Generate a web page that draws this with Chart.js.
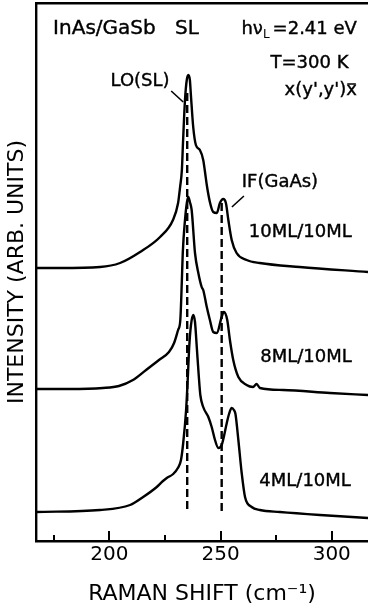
<!DOCTYPE html>
<html>
<head>
<meta charset="utf-8">
<script src="https://cdn.jsdelivr.net/npm/chart.js@4.4.1/dist/chart.umd.min.js"></script>
<style>
  html, body { margin: 0; padding: 0; background: #fff; }
  canvas { display: block; }
</style>
</head>
<body>
<canvas id="myChart" width="368" height="610"></canvas>
<script>
// Raman shift (cm-1) and intensity (arb. units, traces already offset)
const shift10 = [167.0,177.8,195.8,204.8,213.8,222.8,228.6,230.9,231.8,232.6,233.1,234.0,234.8,235.5,236.2,236.6,237.7,238.9,240.7,242.2,243.0,243.8,245.3,246.7,248.3,249.7,251.2,252.4,253.5,255.0,257.2,261.7,267.6,285.6,316.3];
const int10 = [273,273,274,278,289,304,321,338,354,371,398,441,461,466,461,448,414,396,391,381,369,356,338,329,328,338,342,338,321,301,288,281,278,274,269];

const shift8 = [167.0,181.8,197.1,204.3,210.6,216.5,222.3,226.8,229.1,230.9,231.9,232.6,233.0,234.0,234.9,235.5,236.2,237.0,238.5,240.0,241.5,242.2,243.8,245.2,246.7,248.3,250.5,251.5,253.0,254.2,255.7,258.0,261.7,264.6,266.2,267.7,278.1,299.2,316.3];
const int8 = [152,152,153,155,161,171,181,189,198,211,221,261,288,321,339,344,339,331,288,268,254,251,234,221,209,208,224,229,221,201,181,164,156,154,157,153,151,148,146];

const shift4 = [167.0,195.8,209.3,215.2,221.3,224.1,225.8,228.7,230.8,232.2,233.2,234.5,235.2,235.9,236.7,237.7,238.5,239.3,240.2,240.9,242.2,244.5,246.0,247.5,249.0,250.5,252.8,253.8,255.0,256.0,256.7,258.0,259.5,261.0,264.0,267.7,276.7,294.7,316.3];
const int4 = [29,31,36,44,54,60,63,67,73,81,98,131,160,194,216,226,219,194,165,146,134,124,114,101,93,96,118,127,133,131,127,101,68,44,34,31,29,26,23];

// dashed markers: LO(SL) and IF(GaAs) positions, with their vertical extent
const loShift = [235.0, 235.0];
const loSpan = [448, 28];
const ifShift = [250.5, 250.5];
const ifSpan = [338, 28];

// leader lines from the labels to the peaks
const loLeadX = [227.8, 233.2];
const loLeadY = [450, 439];
const ifLeadX = [255.1, 260.5];
const ifLeadY = [334, 345];

const tickValues = [175, 200, 225, 250, 275, 300];

const pts = (xs, ys) => xs.map((v, i) => ({x: v, y: ys[i]}));
const FONT = '"DejaVu Sans"';

Chart.defaults.font.family = FONT;
Chart.defaults.color = '#000';

const paperMarks = {
  id: 'paperMarks',
  afterDraw(chart) {
    const {ctx, scales: {x, y}} = chart;
    ctx.save();
    ctx.strokeStyle = '#000';
    ctx.fillStyle = '#000';
    ctx.lineWidth = 2;
    // ticks point into the plot
    tickValues.forEach(v => {
      const px = Math.round(x.getPixelForValue(v));
      const len = v % 50 === 0 ? 10 : 6;
      ctx.beginPath();
      ctx.moveTo(px, y.bottom);
      ctx.lineTo(px, y.bottom - len);
      ctx.stroke();
    });

    ctx.textBaseline = 'middle';
    ctx.lineWidth = 0.4;
    const notes = [
      ['InAs/GaSb', 174.7, 512.5, 'left', 20],
      ['SL', 229.5, 512.5, 'left', 20],
      ['T=300 K', 307.5, 477.5, 'right', 18],
      ['LO(SL)', 213.8, 460, 'center', 18],
      ['IF(GaAs)', 276.7, 359, 'center', 18],
      ['10ML/10ML', 309.0, 308.5, 'right', 18],
      ['8ML/10ML', 309.0, 183.5, 'right', 18],
      ['4ML/10ML', 308.6, 60, 'right', 18]
    ];
    notes.forEach(n => {
      ctx.font = n[4] + 'px ' + FONT;
      ctx.textAlign = n[3];
      const px = x.getPixelForValue(n[1]), py = y.getPixelForValue(n[2]);
      ctx.fillText(n[0], px, py);
      ctx.strokeText(n[0], px, py);
    });

    // h nu_L = 2.41 eV
    ctx.font = '18px ' + FONT;
    let right = x.getPixelForValue(311.3);
    let cy = y.getPixelForValue(512);
    ctx.textAlign = 'left';
    const w1 = ctx.measureText('hν').width;
    const w3 = ctx.measureText('=2.41 eV').width;
    ctx.font = '12px ' + FONT;
    const w2 = ctx.measureText('L').width;
    let left = right - (w1 + w2 + 3 + w3);
    ctx.fillText('L', left + w1, cy + 6);
    ctx.font = '18px ' + FONT;
    ctx.fillText('hν', left, cy);
    ctx.strokeText('hν', left, cy);
    ctx.fillText('=2.41 eV', left + w1 + w2 + 3, cy);
    ctx.strokeText('=2.41 eV', left + w1 + w2 + 3, cy);

    // x(y',y')x-bar
    right = x.getPixelForValue(311.3);
    cy = y.getPixelForValue(451);
    ctx.textAlign = 'right';
    ctx.fillText("x(y',y')x", right, cy);
    ctx.strokeText("x(y',y')x", right, cy);
    const wx = ctx.measureText('x').width;
    ctx.lineWidth = 1.5;
    ctx.beginPath();
    ctx.moveTo(right - wx + 1, cy - 6);
    ctx.lineTo(right - 1, cy - 6);
    ctx.stroke();
    ctx.restore();
  }
};

const spectrum = (xs, ys) => ({
  data: pts(xs, ys),
  borderColor: '#000',
  borderWidth: 2.4,
  pointRadius: 0,
  fill: false,
  cubicInterpolationMode: 'monotone'
});

const marker = (xs, ys, dash, w) => ({
  data: pts(xs, ys),
  borderColor: '#000',
  borderWidth: w,
  borderDash: dash,
  pointRadius: 0,
  fill: false,
  tension: 0
});

var config = {
  type: 'line',
  data: {
    datasets: [
      spectrum(shift10, int10),
      spectrum(shift8, int8),
      spectrum(shift4, int4),
      marker(loShift, loSpan, [8, 4], 2.4),
      marker(ifShift, ifSpan, [8, 4], 2.4),
      marker(loLeadX, loLeadY, [], 1.6),
      marker(ifLeadX, ifLeadY, [], 1.6)
    ]
  },
  options: {
    responsive: false,
    animation: false,
    devicePixelRatio: 1,
    layout: { padding: 0 },
    plugins: {
      legend: { display: false },
      tooltip: { enabled: false }
    },
    scales: {
      x: {
        type: 'linear',
        position: 'bottom',
        min: 167,
        max: 316.3,
        afterBuildTicks: s => { s.ticks = tickValues.map(v => ({value: v})); },
        afterFit: s => { s.height = 69; },
        grid: { display: false, drawTicks: false },
        border: { display: true, color: '#000', width: 2.4 },
        ticks: {
          autoSkip: false,
          maxRotation: 0,
          padding: 2,
          color: '#000',
          font: { size: 20 },
          callback: v => (v % 50 === 0 ? v : '')
        },
        title: {
          display: true,
          text: 'RAMAN SHIFT (cm⁻¹)',
          color: '#000',
          font: { size: 22 },
          padding: { top: 0, bottom: 3 }
        }
      },
      x2: {
        type: 'linear',
        position: 'top',
        min: 167,
        max: 316.3,
        afterFit: s => { s.height = 3; },
        grid: { display: false, drawTicks: false },
        border: { display: true, color: '#000', width: 2.4 },
        ticks: { display: false }
      },
      y: {
        type: 'linear',
        min: 0,
        max: 538,
        afterFit: s => { s.width = 36; },
        grid: { display: false, drawTicks: false },
        border: { display: true, color: '#000', width: 2.4 },
        ticks: { display: false },
        title: {
          display: true,
          text: 'INTENSITY (ARB. UNITS)',
          color: '#000',
          font: { size: 22 },
          padding: { top: 4, bottom: 0 }
        }
      }
    }
  },
  plugins: [paperMarks]
};

var myChart = new Chart(document.getElementById('myChart'), config);
</script>
</body>
</html>
